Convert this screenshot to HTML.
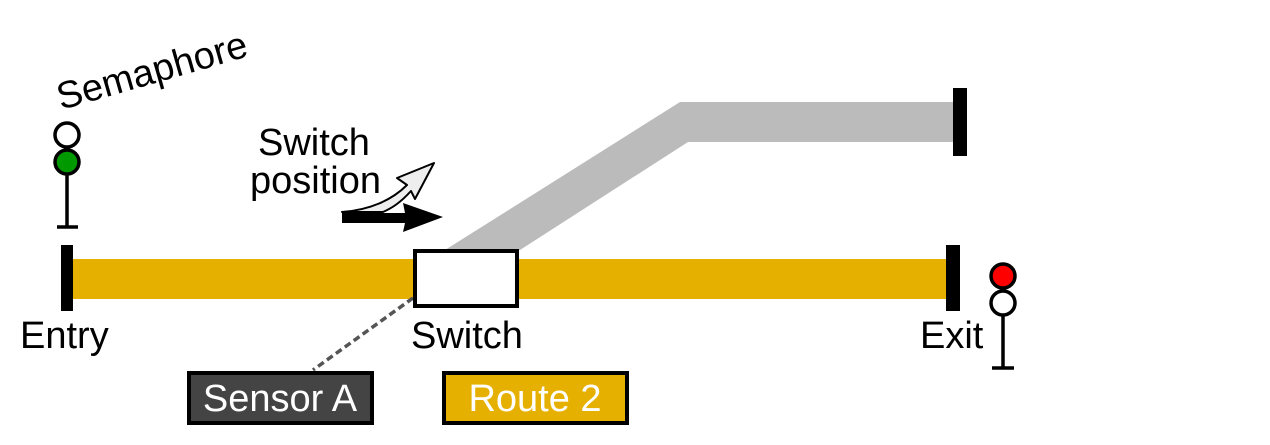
<!DOCTYPE html>
<html><head><meta charset="utf-8"><style>
html,body{margin:0;padding:0;background:#fff;width:1270px;height:445px;overflow:hidden}
text{font-family:"Liberation Sans",sans-serif}
</style></head><body>
<svg width="1270" height="445" viewBox="0 0 1270 445">
<polygon points="445,250 520,250 688,142 955,142 955,102 680,102" fill="#bbbbbb"/>
<rect x="953" y="88" width="14" height="68" fill="#000"/>
<rect x="70" y="259" width="880" height="40" fill="#e6b000"/>
<rect x="61" y="245" width="12" height="66" fill="#000"/>
<rect x="946" y="245" width="14" height="66" fill="#000"/>
<line x1="413" y1="298" x2="313" y2="370" stroke="#555" stroke-width="3.5" stroke-dasharray="7,4"/>
<rect x="415" y="251" width="102" height="55" fill="#fff" stroke="#000" stroke-width="4"/>
<text x="20" y="348" font-size="38">Entry</text>
<text x="411" y="348" font-size="38">Switch</text>
<text x="920" y="348" font-size="38">Exit</text>
<g>
<rect x="189" y="373" width="183" height="50" fill="#444" stroke="#000" stroke-width="4"/>
<text x="280" y="411" font-size="38" fill="#fff" text-anchor="middle">Sensor A</text>
</g>
<g>
<rect x="444" y="373" width="183" height="50" fill="#e6b000" stroke="#000" stroke-width="4"/>
<text x="535" y="411" font-size="38" fill="#fff" text-anchor="middle">Route 2</text>
</g>
<g stroke="#000" stroke-width="3.5">
<line x1="67" y1="174" x2="67" y2="227"/>
<line x1="57" y1="227" x2="78" y2="227"/>
<circle cx="67" cy="135" r="12" fill="#fff"/>
<circle cx="67" cy="162" r="12" fill="#009900"/>
</g>
<g stroke="#000" stroke-width="3.5">
<line x1="1003" y1="315" x2="1003" y2="368"/>
<line x1="992" y1="368" x2="1014" y2="368"/>
<circle cx="1003" cy="276" r="12" fill="#ff0000"/>
<circle cx="1003" cy="303" r="12" fill="#fff"/>
</g>
<text x="0" y="0" font-size="38" transform="translate(61,110) rotate(-16)">Semaphore</text>
<text font-size="38"><tspan x="258" y="155">Switch</tspan><tspan x="250" y="193">position</tspan></text>
<path d="M342,212 C370,210 392,200 407,185 L397,178 L434,163 L415,199 L411,191 C400,203 392,208 383,212 Z" fill="#eee" stroke="#000" stroke-width="2" stroke-linejoin="round"/>
<polygon points="342,213 405,213 403,203 443,217 403,232 405,223 342,223" fill="#000"/>
</svg>
</body></html>
